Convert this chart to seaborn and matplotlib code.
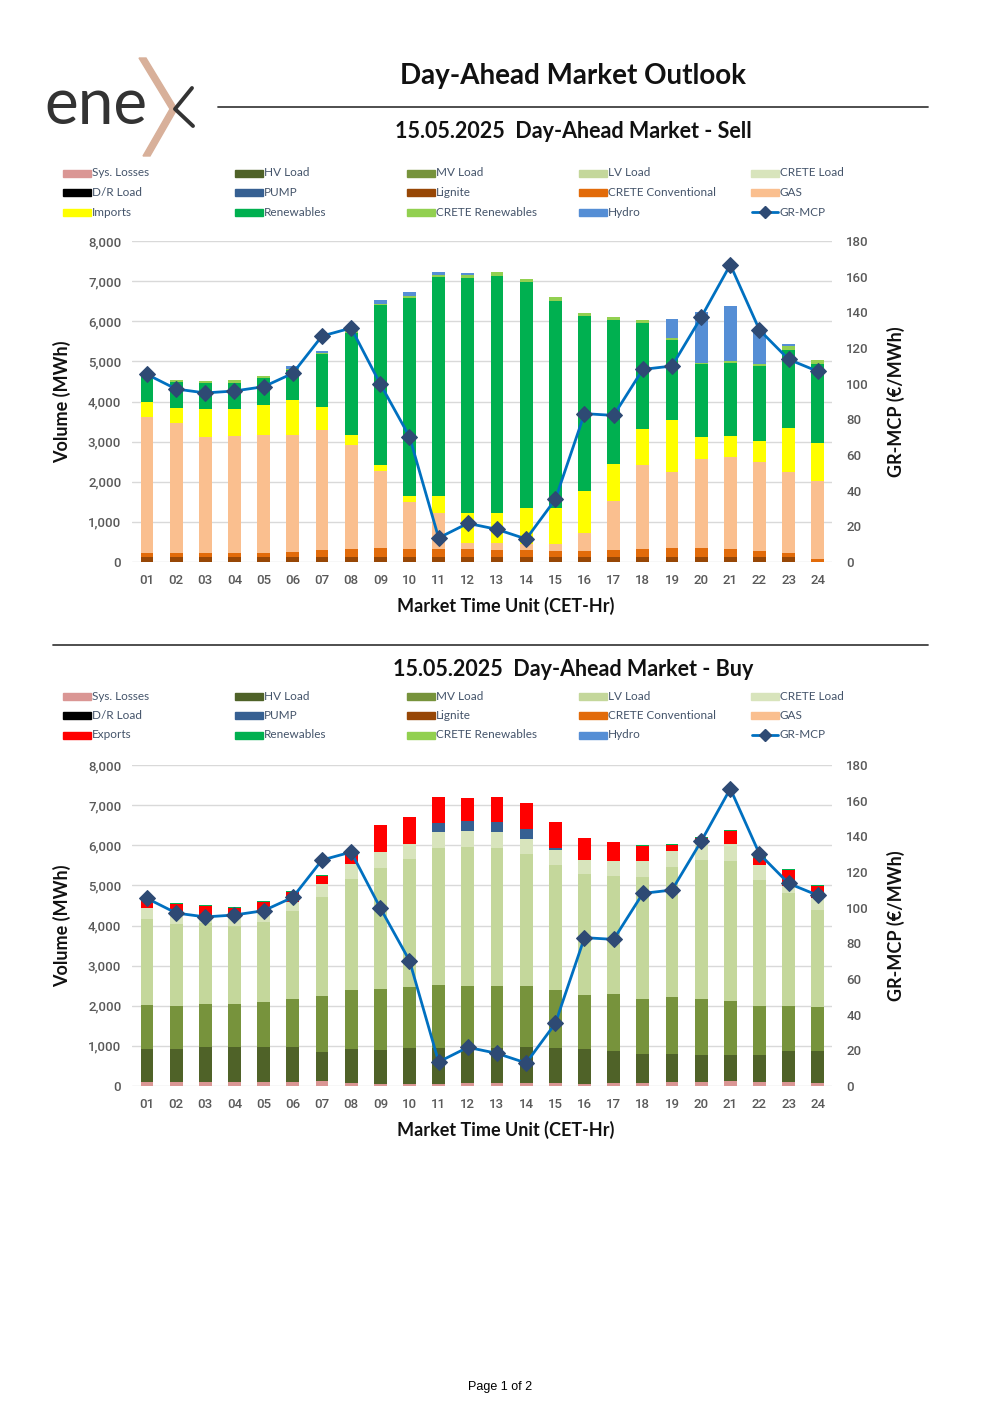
import numpy as np
import seaborn as sns
import matplotlib.pyplot as plt
from matplotlib.patches import Rectangle, Polygon
from matplotlib.lines import Line2D

# Hours
hours = ["%02d" % h for h in range(1, 25)]

# ---- Sell side (MWh per stack segment) ----
sell_lignite = [133] * 23 + [0]
sell_crete_conv = [100, 100, 100, 100, 100, 109, 167, 192, 217, 200, 192, 184,
                   175, 159, 150, 150, 167, 192, 217, 225, 200, 142, 100, 83]
sell_gas = [3392, 3242, 2892, 2900, 2925, 2916, 3000, 2583, 1925, 1167, 892, 158,
            159, 158, 167, 450, 1208, 2092, 1900, 2200, 2292, 2225, 2000, 1934]
sell_imports = [375, 367, 690, 682, 759, 867, 567, 267, 150, 133, 416, 742,
                750, 892, 908, 1025, 925, 908, 1300, 567, 508, 517, 1100, 950]
sell_renewables = [700, 641, 635, 652, 666, 750, 1308, 2542, 3975, 4950, 5475, 5858,
                   5908, 5625, 5142, 4367, 3600, 2633, 1983, 1800, 1817, 1875, 1950, 1958]
sell_crete_ren = [20, 57, 58, 58, 57, 25, 25, 33, 33, 42, 50, 67,
                  92, 91, 92, 75, 67, 67, 42, 42, 50, 50, 92, 117]
sell_hydro = [0, 0, 0, 0, 0, 90, 67, 0, 92, 92, 67, 58,
              0, 0, 0, 0, 0, 0, 475, 1258, 1392, 800, 67, 0]

# ---- Buy side (MWh per stack segment) ----
buy_losses = [100, 100, 90, 90, 90, 90, 125, 66, 50, 50, 50, 66,
              66, 66, 66, 58, 66, 66, 100, 108, 116, 108, 100, 66]
buy_hv = [831, 831, 874, 882, 882, 874, 714, 848, 848, 889, 889, 848,
          873, 898, 881, 864, 815, 732, 706, 665, 665, 665, 764, 807]
buy_mv = [1081, 1064, 1072, 1081, 1114, 1213, 1396, 1488, 1529, 1529, 1587, 1587,
          1554, 1529, 1446, 1355, 1413, 1371, 1405, 1404, 1346, 1213, 1131, 1088]
buy_lv = [2161, 2035, 2019, 1927, 2011, 2178, 2477, 2750, 2999, 3183, 3407, 3466,
          3449, 3291, 3117, 3008, 2950, 3050, 3257, 3449, 3482, 3158, 2825, 2427]
buy_crete_load = [267, 266, 216, 208, 233, 240, 332, 374, 399, 390, 399, 390,
                  390, 382, 365, 358, 365, 390, 399, 407, 416, 366, 166, 307]
buy_pump = [0, 0, 0, 0, 0, 0, 0, 0, 0, 0, 233, 241,
            241, 241, 50, 0, 0, 0, 0, 0, 0, 0, 0, 0]
buy_exports = [260, 234, 208, 240, 265, 250, 200, 274, 682, 665, 648, 590,
               632, 640, 648, 548, 482, 382, 141, 150, 324, 182, 399, 299]
buy_renewables = [20, 25, 25, 25, 25, 25, 25, 0, 0, 0, 0, 0,
                  0, 0, 0, 0, 0, 17, 25, 25, 25, 25, 25, 25]

# ---- GR-MCP price (EUR/MWh) ----
mcp = [105.2, 97.0, 94.8, 95.9, 98.3, 105.8, 126.7, 131.2, 99.8, 70.3, 13.5, 21.7,
       18.3, 12.9, 35.1, 83.2, 82.2, 108.0, 109.9, 137.2, 166.7, 130.1, 113.6, 106.9]

colors = {
    "Sys. Losses": "#DA9694", "HV Load": "#4F6228", "MV Load": "#77933C",
    "LV Load": "#C4D79B", "CRETE Load": "#D8E4BC", "D/R Load": "#000000",
    "PUMP": "#366092", "Lignite": "#974706", "CRETE Conventional": "#E26B0A",
    "GAS": "#FABF8F", "Imports": "#FFFF00", "Exports": "#FF0000",
    "Renewables": "#00B050", "CRETE Renewables": "#92D050", "Hydro": "#558ED5",
}
line_color = "#0070C0"
marker_color = "#2E4A74"
label_color = "#44546A"
tick_color = "#595959"

sns.set_theme(style="white")
plt.rcParams["font.family"] = ["Roboto", "DejaVu Sans"]

W, H = 1000, 1415
fig = plt.figure(figsize=(10, 14.15), dpi=100)


def fx(x):
    return x / W


def fy(y):
    return 1 - y / H


TITLE_FONT = ["Lato", "DejaVu Sans"]

# ---- Logo ----
fig.text(fx(44), fy(106), "ene", fontsize=46, color="#333333",
         family=["Lato", "DejaVu Sans"], va="center", ha="left")
fig.add_artist(Line2D([fx(192), fx(175), fx(193)], [fy(88), fy(109), fy(126)],
                      color="#333333", lw=2.8, transform=fig.transFigure))
fig.add_artist(Polygon([(fx(139), fy(58)), (fx(146), fy(58)), (fx(177), fy(109)),
                        (fx(150), fy(156)), (fx(143), fy(156)), (fx(170), fy(109))],
                       closed=True, color="#D8B09A", transform=fig.transFigure))

# ---- Header ----
fig.text(fx(573), fy(76), "Day-Ahead Market Outlook", fontsize=20, fontweight="bold",
         ha="center", va="center", family=TITLE_FONT, color="#111111")
fig.add_artist(Line2D([fx(218), fx(928)], [fy(107), fy(107)], color="#404040", lw=1.3,
                      transform=fig.transFigure))
fig.add_artist(Line2D([fx(53), fx(928)], [fy(645), fy(645)], color="#404040", lw=1.3,
                      transform=fig.transFigure))


def draw_legend(y0, third):
    names = ["Sys. Losses", "HV Load", "MV Load", "LV Load", "CRETE Load",
             "D/R Load", "PUMP", "Lignite", "CRETE Conventional", "GAS",
             third, "Renewables", "CRETE Renewables", "Hydro", "GR-MCP"]
    for i, name in enumerate(names):
        row, col = divmod(i, 5)
        x = 63 + col * 172
        y = y0 + row * 19.5
        if name == "GR-MCP":
            fig.add_artist(Line2D([fx(x + 1), fx(x + 27)], [fy(y), fy(y)], color=line_color,
                                  lw=2, transform=fig.transFigure))
            fig.add_artist(Line2D([fx(x + 14)], [fy(y)], marker="D", color=marker_color,
                                  markersize=6, transform=fig.transFigure))
        else:
            fig.add_artist(Rectangle((fx(x), fy(y + 3.5)), fx(28), 7 / H,
                                     color=colors[name], transform=fig.transFigure))
        fig.text(fx(x + 29), fy(y), name, fontsize=8.5, color=label_color,
                 va="center", ha="left", family=TITLE_FONT)


def draw_chart(top_px, title, title_y, legend_y, third, layers):
    fig.text(fx(573), fy(title_y), title, fontsize=15.5, fontweight="bold",
             ha="center", va="center", family=TITLE_FONT, color="#111111")
    draw_legend(legend_y, third)

    ax = fig.add_axes([fx(132.4), fy(top_px + 321), fx(700), 321 / H])
    # stacked bars: draw cumulative totals from the top layer down
    cum = np.cumsum([np.array(v, dtype=float) for _, v in layers], axis=0)
    for (name, _), tops in reversed(list(zip(layers, cum))):
        sns.barplot(x=hours, y=tops, color=colors[name], saturation=1, width=0.44,
                    edgecolor="none", linewidth=0, ax=ax, zorder=2)
    ax.set_ylim(0, 8000)
    ax.set_xlim(-0.5, 23.5)
    ax.set_yticks(range(0, 8001, 1000))
    ax.set_yticklabels([f"{v:,}" for v in range(0, 8001, 1000)])
    ax.grid(axis="y", color="#D9D9D9", lw=1, zorder=0)
    ax.set_axisbelow(True)
    for s in ax.spines.values():
        s.set_visible(False)
    ax.tick_params(axis="both", length=0, labelsize=9.5, colors=tick_color)
    ax.tick_params(axis="x", pad=8.5)
    ax.tick_params(axis="y", pad=8)
    for t in ax.get_xticklabels() + ax.get_yticklabels():
        t.set_fontweight("medium")
    ax.set_ylabel("Volume (MWh)", fontsize=13, fontweight="bold", family=TITLE_FONT,
                  color="#111111", labelpad=12)
    ax.set_xlabel("Market Time Unit (CET-Hr)", fontsize=13, fontweight="bold",
                  family=TITLE_FONT, color="#111111")
    ax.xaxis.set_label_coords((506 - 132.4) / 700, -35 / 321)

    ax2 = ax.twinx()
    sns.lineplot(x=np.arange(24), y=mcp, color=line_color, lw=2, marker="D",
                 markersize=8, markerfacecolor=marker_color, markeredgecolor=marker_color,
                 ax=ax2, zorder=5)
    ax2.set_ylim(0, 180)
    ax2.set_yticks(range(0, 181, 20))
    for s in ax2.spines.values():
        s.set_visible(False)
    ax2.grid(False)
    ax2.tick_params(axis="y", length=0, labelsize=9.5, colors=tick_color, pad=10)
    for t in ax2.get_yticklabels():
        t.set_fontweight("medium")
    ax2.set_ylabel("GR-MCP (€/MWh)", fontsize=13, fontweight="bold", family=TITLE_FONT,
                   color="#111111", labelpad=13)
    return ax


sell_layers = [("Lignite", sell_lignite), ("CRETE Conventional", sell_crete_conv),
               ("GAS", sell_gas), ("Imports", sell_imports), ("Renewables", sell_renewables),
               ("CRETE Renewables", sell_crete_ren), ("Hydro", sell_hydro)]
buy_layers = [("Sys. Losses", buy_losses), ("HV Load", buy_hv), ("MV Load", buy_mv),
              ("LV Load", buy_lv), ("CRETE Load", buy_crete_load), ("PUMP", buy_pump),
              ("Exports", buy_exports), ("Renewables", buy_renewables)]

ax_sell = draw_chart(241, "15.05.2025  Day-Ahead Market - Sell", 131, 173, "Imports", sell_layers)
ax_buy = draw_chart(765, "15.05.2025  Day-Ahead Market - Buy", 669, 696, "Exports", buy_layers)

fig.text(fx(500), fy(1387), "Page 1 of 2", fontsize=9, ha="center", va="center",
         family=["Liberation Sans", "DejaVu Sans"], color="#000000")

fig.savefig("out.png", dpi=100)
